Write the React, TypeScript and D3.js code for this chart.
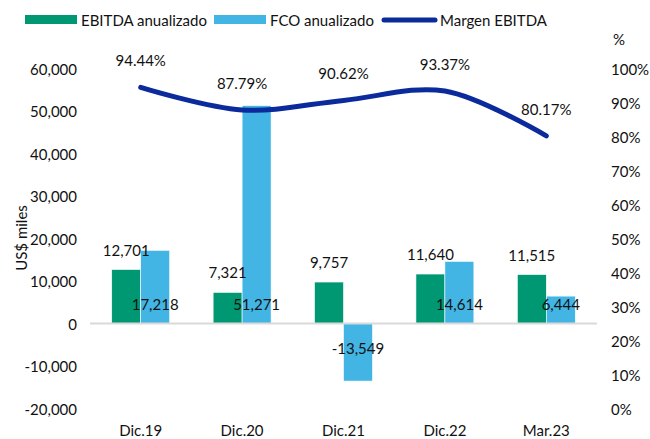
import React from "react";
import * as d3 from "d3";

const categories = ["Dic.19", "Dic.20", "Dic.21", "Dic.22", "Mar.23"];
const ebitda = [12701, 7321, 9757, 11640, 11515];
const fco = [17218, 51271, -13549, 14614, 6444];
const margen = [94.44, 87.79, 90.62, 93.37, 80.17];
const leftTicks = [-20000, -10000, 0, 10000, 20000, 30000, 40000, 50000, 60000];
const rightTicks = [0, 10, 20, 30, 40, 50, 60, 70, 80, 90, 100];
const seriesNames = ["EBITDA anualizado", "FCO anualizado", "Margen EBITDA"];

const GREEN = "#009872";
const BLUE = "#42B5E5";
const NAVY = "#0B2B9C";
const FONT = "Lato, 'Open Sans', sans-serif";

export default function App() {
  const W = 650, H = 439;
  const x0 = d3.scaleBand<string>().domain(categories).range([90, 597]).padding(0);
  const x1 = d3.scaleBand<string>().domain(["e", "f"]).range([0, x0.bandwidth()]).paddingInner(0).paddingOuter(0.75);
  const yL = d3.scaleLinear().domain([-20000, 60000]).range([408.5, 68.5]);
  const yR = d3.scaleLinear().domain([0, 100]).range([408.5, 68.5]);
  const locale = d3.formatLocale({ decimal: ".", thousands: ",", grouping: [3], currency: ["$", ""], minus: "-" });
  const fmt = locale.format(",");
  const cx = (c: string) => (x0(c) as number) + x0.bandwidth() / 2;

  const line = d3
    .line<number>()
    .x((_, i) => cx(categories[i]))
    .y((d) => yR(d))
    .curve(d3.curveCatmullRom.alpha(0.5));

  const txt = { fontFamily: FONT, fontSize: 15, fill: "#111" } as const;

  return (
    <svg width={W} height={H} style={{ position: "absolute", left: 0, top: 0, background: "#fff" }}>
      {/* legend */}
      <rect x={25} y={15} width={52} height={9} fill={GREEN} />
      <text x={81} y={20} dominantBaseline="central" {...txt}>{seriesNames[0]}</text>
      <rect x={214} y={15} width={52} height={9} fill={BLUE} />
      <text x={270} y={20} dominantBaseline="central" {...txt}>{seriesNames[1]}</text>
      <line x1={384} x2={435} y1={20} y2={20} stroke={NAVY} strokeWidth={5} strokeLinecap="round" />
      <text x={440} y={20} dominantBaseline="central" {...txt}>{seriesNames[2]}</text>

      {/* left axis */}
      {leftTicks.map((t) => (
        <text key={t} x={77} y={yL(t)} textAnchor="end" dominantBaseline="central" {...txt}>{fmt(t)}</text>
      ))}
      <text transform={`translate(21,238) rotate(-90)`} textAnchor="middle" dominantBaseline="central" {...txt}>US$ miles</text>

      {/* right axis */}
      <text x={613} y={39} dominantBaseline="central" {...txt}>%</text>
      {rightTicks.map((t) => (
        <text key={t} x={611} y={yR(t)} dominantBaseline="central" {...txt}>{t}%</text>
      ))}

      {/* bars */}
      {categories.map((c, i) => {
        const bx = x0(c) as number;
        const e = ebitda[i], f = fco[i];
        return (
          <g key={c}>
            <rect x={bx + (x1("e") as number)} y={yL(Math.max(0, e))} width={x1.bandwidth()} height={Math.abs(yL(e) - yL(0))} fill={GREEN} stroke="#fff" strokeWidth={0.6} />
            <rect x={bx + (x1("f") as number)} y={yL(Math.max(0, f))} width={x1.bandwidth()} height={Math.abs(yL(f) - yL(0))} fill={BLUE} stroke="#fff" strokeWidth={0.6} />
          </g>
        );
      })}

      {/* zero line */}
      <line x1={90} x2={597} y1={yL(0)} y2={yL(0)} stroke="#D9D9D9" strokeWidth={2} />

      {/* bar labels */}
      {categories.map((c, i) => {
        const bx = x0(c) as number;
        const ex = bx + (x1("e") as number) + x1.bandwidth() / 2;
        const fx = bx + (x1("f") as number) + x1.bandwidth() / 2;
        const f = fco[i];
        return (
          <g key={c + "l"}>
            <text x={ex} y={yL(ebitda[i]) - 20} textAnchor="middle" dominantBaseline="central" {...txt}>{fmt(ebitda[i])}</text>
            <text x={fx} y={f >= 0 ? yL(0) - 20 : yL(0) + 24} textAnchor="middle" dominantBaseline="central" {...txt}>{fmt(f)}</text>
          </g>
        );
      })}

      {/* line */}
      <path d={line(margen) as string} fill="none" stroke={NAVY} strokeWidth={5} strokeLinecap="round" />
      {categories.map((c, i) => (
        <text key={c + "m"} x={cx(c)} y={yR(margen[i]) - 27} textAnchor="middle" dominantBaseline="central" {...txt}>{margen[i].toFixed(2)}%</text>
      ))}

      {/* x labels */}
      {categories.map((c) => (
        <text key={c + "x"} x={cx(c)} y={430} textAnchor="middle" dominantBaseline="central" {...txt}>{c}</text>
      ))}
    </svg>
  );
}
